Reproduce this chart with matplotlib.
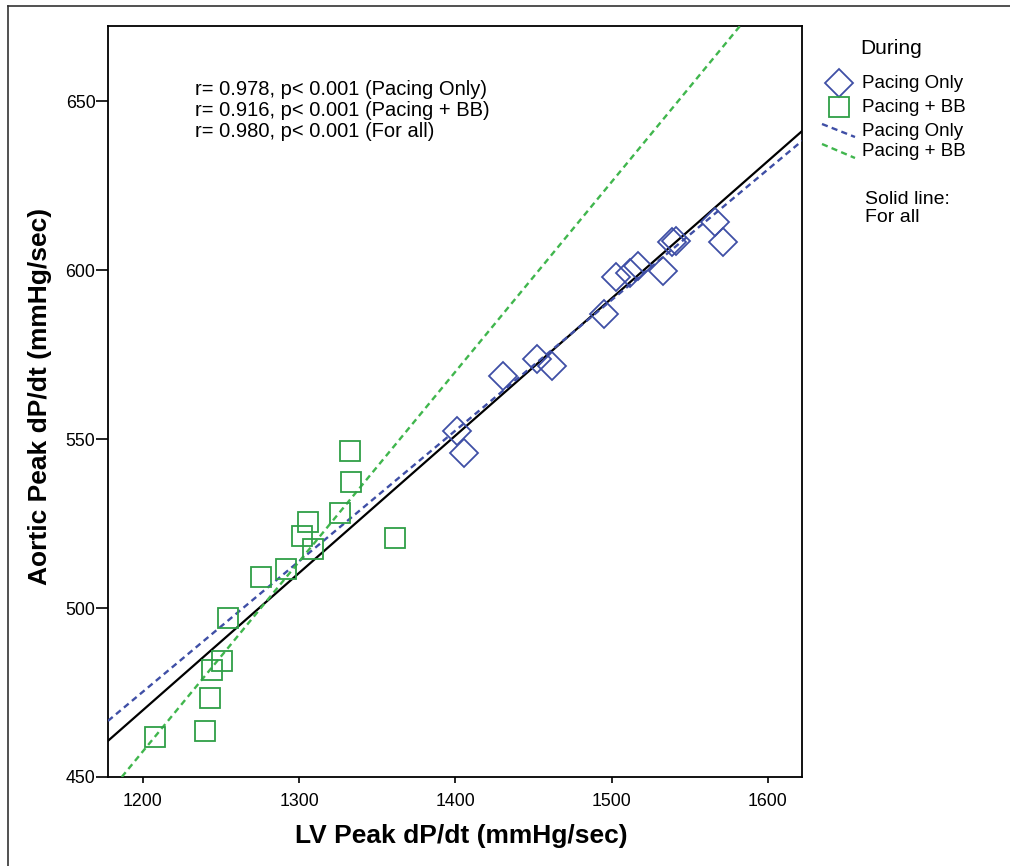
import matplotlib
matplotlib.use("Agg")
import matplotlib.pyplot as plt
from matplotlib.lines import Line2D

plt.rcParams['font.family'] = ['Liberation Sans', 'DejaVu Sans']

# LV peak dP/dt vs aortic peak dP/dt
pacing_lv = [1400.7, 1405.6, 1430.6, 1451.9, 1462.1, 1495.2, 1502.7,
             1511.7, 1517.0, 1532.6, 1538.4, 1541.0, 1566.0, 1571.0]
pacing_ao = [552.4, 545.8, 568.7, 573.6, 571.6, 586.9, 597.8,
             599.0, 601.2, 599.7, 608.4, 608.6, 614.3, 608.4]

bb_lv = [1332.5, 1333.0, 1325.8, 1305.8, 1302.0, 1308.6, 1361.5, 1291.5,
         1275.5, 1254.6, 1250.8, 1244.2, 1243.1, 1239.7, 1207.7]
bb_ao = [546.4, 537.4, 528.0, 525.3, 521.3, 517.5, 520.8, 511.5,
         509.3, 496.9, 484.3, 481.7, 473.5, 463.6, 461.9]

# fit lines (end points)
all_fit_x = [1177.6, 1621.8]
all_fit_y = [460.7, 641.1]
pacing_fit_x = [1177.6, 1621.8]
pacing_fit_y = [466.6, 638.2]
bb_fit_x = [1186.4, 1582.1]
bb_fit_y = [450.0, 672.2]

xticks = [1200, 1300, 1400, 1500, 1600]
yticks = [450, 500, 550, 600, 650]

stats = ["r= 0.978, p< 0.001 (Pacing Only)",
         "r= 0.916, p< 0.001 (Pacing + BB)",
         "r= 0.980, p< 0.001 (For all)"]

blue = '#3f4fa6'
green = '#2f9f47'
green_line = '#40b64d'
dash = (0, (2.6, 1.8))

W, H = 1010, 866
fig = plt.figure(figsize=(W / 100, H / 100), dpi=100)
ax = fig.add_axes([108 / W, 1 - 777 / H, 694 / W, 751 / H])


def px(x, y):
    return x / W, 1 - y / H


ax.plot(all_fit_x, all_fit_y, color='black', lw=1.6, zorder=3)
ax.plot(pacing_fit_x, pacing_fit_y, color=blue, lw=1.7, ls=dash, zorder=3)
ax.plot(bb_fit_x, bb_fit_y, color=green_line, lw=1.7, ls=dash, zorder=3)

ax.plot(pacing_lv, pacing_ao, ls='none', marker='D', ms=14, mfc='none',
        mec=blue, mew=1.3, zorder=4)
ax.plot(bb_lv, bb_ao, ls='none', marker='s', ms=15, mfc='none',
        mec=green, mew=1.3, zorder=4)

ax.set_xlim(1177.6, 1621.8)
ax.set_ylim(450, 672.2)
ax.set_xticks(xticks)
ax.set_yticks(yticks)
ax.tick_params(axis='x', direction='out', length=4.5, width=1.2, pad=7,
               labelsize=12.8)
ax.tick_params(axis='y', direction='out', length=9, width=1.2, pad=0,
               labelsize=12.8)
for s in ax.spines.values():
    s.set_linewidth(1.3)

for i, t in enumerate(stats):
    ax.text(0.125, 0.916 - 0.028 * i, t, transform=ax.transAxes,
            fontsize=14.5, va='center', ha='left', linespacing=1.0)

fig.text(*px(461, 836), "LV Peak dP/dt (mmHg/sec)", ha='center', va='center',
         fontsize=19, fontweight='bold')
fig.text(*px(40, 396), "Aortic Peak dP/dt (mmHg/sec)", ha='center',
         va='center', rotation=90, fontsize=19, fontweight='bold')

# legend, drawn by hand
fig.text(*px(860, 48), "During", fontsize=15, va='center', ha='left')
fig.add_artist(Line2D([839 / W], [1 - 83 / H], marker='D', ms=14.5, mfc='none',
                      mec=blue, mew=1.3, transform=fig.transFigure))
fig.add_artist(Line2D([839 / W], [1 - 107 / H], marker='s', ms=15, mfc='none',
                      mec=green, mew=1.3, transform=fig.transFigure))
x0, y0 = px(822, 124)
x1, y1 = px(855, 137)
fig.add_artist(Line2D([x0, x1], [y0, y1], color=blue, lw=1.7, ls=dash,
                      transform=fig.transFigure))
x0, y0 = px(822, 144)
x1, y1 = px(855, 158)
fig.add_artist(Line2D([x0, x1], [y0, y1], color=green_line, lw=1.7, ls=dash,
                      transform=fig.transFigure))
for y, t in [(83, "Pacing Only"), (107, "Pacing + BB"),
             (131, "Pacing Only"), (152, "Pacing + BB")]:
    fig.text(*px(862, y), t, fontsize=13.5, va='center', ha='left')
fig.text(*px(865, 199), "Solid line:", fontsize=14, va='center', ha='left')
fig.text(*px(865, 218), "For all", fontsize=14, va='center', ha='left')

# outer frame
fig.add_artist(Line2D([8 / W, 8 / W], [0, 1 - 6 / H], color='#333333', lw=1.2,
                      transform=fig.transFigure))
fig.add_artist(Line2D([8 / W, 1], [1 - 6 / H, 1 - 6 / H], color='#333333',
                      lw=1.2, transform=fig.transFigure))

fig.savefig("out.png", dpi=100)
